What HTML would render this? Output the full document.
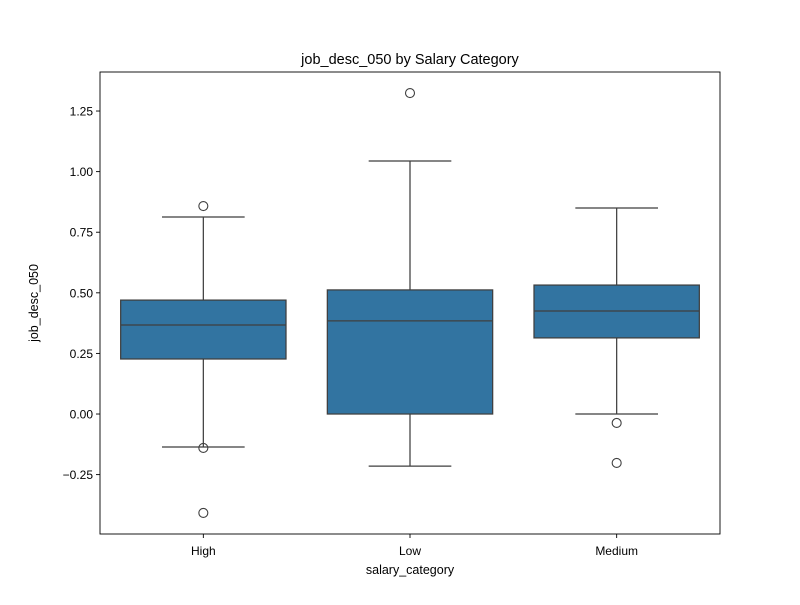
<!DOCTYPE html>
<html><head><meta charset="utf-8"><style>
body{margin:0;background:#fff;}
svg text{font-family:"Liberation Sans","DejaVu Sans",sans-serif;fill:#000;}
</style></head><body>
<svg id="chart" width="800" height="600">
<rect width="800" height="600" fill="#fff"/>
<text x="410" y="64" font-size="14.5" text-anchor="middle">job_desc_050 by Salary Category</text>
<text x="410" y="574" font-size="12.5" text-anchor="middle">salary_category</text>
<text transform="translate(38,303) rotate(-90)" font-size="12.5" text-anchor="middle">job_desc_050</text>
<g id="marks"></g>
<rect x="100" y="72" width="620" height="462" fill="none" stroke="#000" stroke-width="0.9"/>
</svg>
<script>
const categories=["High","Low","Medium"];
const q1=[0.227,0.0,0.314];
const medians=[0.367,0.384,0.425];
const q3=[0.470,0.512,0.532];
const whiskerLow=[-0.136,-0.215,0.0];
const whiskerHigh=[0.813,1.044,0.850];
const outliers=[[0.858,-0.14,-0.408],[1.324],[-0.037,-0.202]];
const yTicks=[-0.25,0,0.25,0.5,0.75,1.0,1.25];
const yTickLabels=["\u22120.25","0.00","0.25","0.50","0.75","1.00","1.25"];

const L=100,R=720,T=72,B=534,yMin=-0.495,yMax=1.411;
const y=v=>B-(v-yMin)/(yMax-yMin)*(B-T);
const band=(R-L)/categories.length;
const x=i=>L+band*(i+0.5);
const NS="http://www.w3.org/2000/svg";
const g=document.getElementById('marks');
function mk(tag,attrs,parent){const e=document.createElementNS(NS,tag);for(const k in attrs)e.setAttribute(k,attrs[k]);(parent||g).appendChild(e);return e;}
yTicks.forEach((t,i)=>{
  const tk=mk('line',{x1:L-4,x2:L,y1:y(t),y2:y(t),stroke:'#000','stroke-width':0.9});
  
  
  const tx=mk('text',{x:L-7,y:y(t)+4.5,'font-size':12,'text-anchor':'end'});
  tx.textContent=yTickLabels[i];
  
  
});
const bw=band*0.8;
categories.forEach((c,i)=>{
  const cx=x(i);
  const tk=mk('line',{x1:cx,x2:cx,y1:B,y2:B+4,stroke:'#000','stroke-width':0.9});
  
  
  const tx=mk('text',{x:cx,y:B+21,'font-size':12,'text-anchor':'middle'});
  tx.textContent=c;
  
  
  const grp=mk('g',{});
  
  
  const st={stroke:'#3f3f3f','stroke-width':1.25};
  mk('line',Object.assign({x1:cx,x2:cx,y1:y(q3[i]),y2:y(whiskerHigh[i])},st),grp);
  mk('line',Object.assign({x1:cx,x2:cx,y1:y(q1[i]),y2:y(whiskerLow[i])},st),grp);
  mk('line',Object.assign({x1:cx-bw/4,x2:cx+bw/4,y1:y(whiskerHigh[i]),y2:y(whiskerHigh[i])},st),grp);
  mk('line',Object.assign({x1:cx-bw/4,x2:cx+bw/4,y1:y(whiskerLow[i]),y2:y(whiskerLow[i])},st),grp);
  mk('rect',Object.assign({x:cx-bw/2,y:y(q3[i]),width:bw,height:y(q1[i])-y(q3[i]),fill:'#3274a1'},st),grp);
  mk('line',Object.assign({x1:cx-bw/2,x2:cx+bw/2,y1:y(medians[i]),y2:y(medians[i])},st),grp);
  outliers[i].forEach(v=>{
    const o=mk('circle',{cx:cx,cy:y(v),r:4.5,fill:'none',stroke:'#3f3f3f','stroke-width':1.1},grp);
    
    
  });
});
</script>
</body></html>
